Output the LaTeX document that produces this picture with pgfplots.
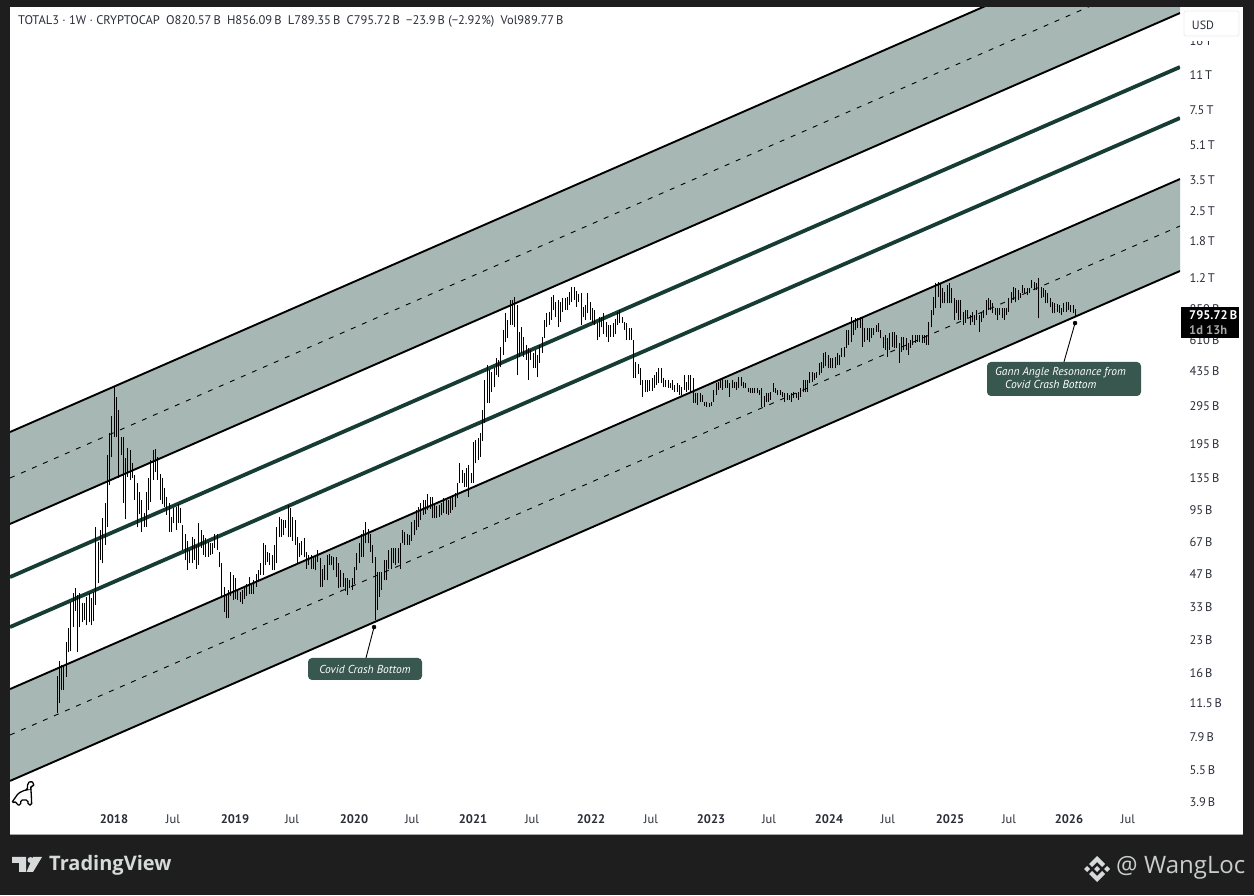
\documentclass[border=0pt]{standalone}
\usepackage{pgfplots}
\usepackage{pgfplotstable}
\usepackage{fontspec}
\setmainfont{PT Sans}
\newfontfamily\brand{Open Sans}
\pgfplotsset{compat=1.18}
\definecolor{bgdark}{HTML}{1E1E1E}
\definecolor{band}{HTML}{A7B7B3}
\definecolor{thickg}{HTML}{163C34}
\definecolor{calloutbg}{HTML}{38574F}
\definecolor{brandc}{HTML}{D6DADA}
\definecolor{labelc}{HTML}{2A2E39}
\pgfplotstableread{
l h
10.3 15.4
11.5 18.2
13.2 17.4
13.3 17.4
15.3 22.4
20 26
20.3 34.7
26.3 38.2
31.5 40.4
20 37.4
26.3 38.2
27.8 34.3
28.5 34.3
26.9 36.6
27.8 38.2
26.9 36.2
28.2 38.7
33.6 78.5
42.6 66.8
54.9 76
53 87
64.7 103
79 173
125 220
169 265
210 363
210 328
135 283
173 210
103 210
86 168
136 187
132 183
135 158
106 139
78.5 127
91 115
74.7 106
79 92
79 115
95 135
104 164
132 182
144 185
132 170
106 141
101 135
98 121
90 109
75 103
75 88
82 97
76 98
82 101
82 97
61 81
55 73
49 68
53 61
53 71
55 69
50 65
52 82
63 76
58 72
57 70
57 67
58 66
59 66
63 73
61 73
51 60
37 53
31 41
29 38
29 39.5
37 48
35.4 46.6
36 45
35.4 39.5
34.7 38.7
34 39.5
36 41
37 42.5
38 45.5
38 42
38 44
41 47
44 49
46.6 53
46.6 66
52 65
54 60
52 59.5
49 58
49 65
53 79
70.5 87.5
70.5 86
72 85
78 85
70.5 100
70.5 97
68 87.5
64.7 85
53 70.5
57 66
58 68
56.5 70
50 60
52 58
50 58
50 57
49 57
53.5 61
41 56
41 50
44 52
44 58
52 58.5
52 57.5
49 56.5
45.5 56.5
40.3 53
41 49
41 47.5
39 45
37.4 45
40.3 44
39.5 45
42.5 51
49 59.5
53 66
57 73
57 76
66 83
66 77
60 73
53 65
28.5 57
31.8 48
36.6 48
39.5 48
44 55
44 55
50 61
50 63
53 63
52 63
53 63
50 66
66 76
65 74.5
65 73
65 72
68 83
72 85
76 95
79 98
85 103
90 106
91 106
95 113
96 109
87 109
87 102
87 99
88 100
90 103
92 108
91 106
90 106
92 109
95 109
98 114
108 128
128 158
128 147
122 142
122 150
110 155
128 142
128 199
158 204
164 208
170 220
201 283
245 393
306 463
306 438
344 429
363 447
415 500
405 489
452 563
516 678
595 820
620 757
716 941
716 941
700 975
415 892
505 665
528 700
505 630
489 576
393 560
489 545
450 530
450 545
405 516
473 576
528 630
620 757
705 815
716 825
757 975
844 994
780 920
700 941
740 920
825 960
844 960
844 975
892 1025
920 1090
941 1085
873 1040
920 1010
716 1015
780 873
757 892
815 1015
757 920
735 860
716 844
608 735
630 780
700 780
650 815
630 740
595 716
630 716
630 735
650 770
716 825
735 844
735 780
678 740
608 735
608 693
608 695
400 608
400 478
420 470
372 447
325 393
344 393
345 393
350 393
350 404
360 415
372 429
380 447
380 447
363 404
363 393
360 393
360 380
352 393
345 372
345 380
333 372
333 363
352 415
345 385
352 415
345 415
306 404
306 340
299 340
310 340
310 333
296 310
293 310
293 306
296 310
310 352
333 380
352 385
360 393
352 404
360 393
360 393
326 380
360 393
360 385
352 385
360 407
368 407
360 385
360 380
344 360
340 360
340 360
340 360
340 360
333 352
293 360
293 330
310 340
310 340
316 344
344 380
340 360
333 352
333 352
326 344
310 340
316 340
316 333
310 340
322 344
322 340
316 344
326 360
344 393
344 393
344 393
380 429
385 429
393 425
402 429
415 474
425 478
447 528
457 533
447 516
447 500
447 500
447 505
463 528
463 516
505 558
505 564
558 678
576 678
595 780
642 757
678 772
693 772
693 780
564 780
595 693
608 693
595 693
620 693
642 693
664 716
664 735
620 678
558 630
545 642
505 620
545 657
564 664
558 664
558 642
474 590
533 630
545 630
545 620
516 590
558 608
576 642
590 642
595 642
595 642
590 642
590 642
576 642
576 740
700 844
799 970
860 1135
970 1150
860 1135
910 1075
910 1030
910 1110
910 1135
910 1075
757 960
815 941
757 941
757 941
716 825
735 844
772 844
716 799
740 825
716 799
757 844
664 799
740 825
772 844
799 941
844 960
844 941
815 910
799 860
757 860
799 860
772 860
757 860
799 860
825 960
910 1030
941 1085
920 1075
941 1050
960 1015
1015 1110
1015 1075
994 1075
1015 1075
1075 1172
1050 1150
1050 1135
772 1195
960 1085
970 1075
910 1050
910 1015
873 960
815 920
815 910
825 900
815 892
799 860
825 910
825 920
844 920
825 892
815 892
789.35 856.09
}\bars
\begin{document}
\begin{tikzpicture}[x=1pt,y=1pt]
\useasboundingbox (0,0) rectangle (1254,895);
\fill[bgdark] (0,0) rectangle (1254,895);
\fill[white] (10,61) rectangle (1243,888);
\draw[gray!70,line width=0.8pt] (10,61) -- (1243,61);
\begin{axis}[
  at={(10pt,85pt)}, anchor=south west,
  width=1170pt, height=802pt, scale only axis,
  ymode=log,
  xmin=2017.129, xmax=2026.928,
  ymin=3.573, ymax=22961,
  axis line style={draw=none},
  tick style={draw=none},
  ticklabel pos=right,
  xticklabel pos=left,
  log ticks with fixed point,
  /pgf/number format/assume math mode=true,
  xtick={2018,2018.494,2019.013,2019.491,2020.01,2020.496,2021.007,2021.501,2021.995,2022.497,2023,2023.486,2023.988,2024.482,2025.002,2025.496,2025.998,2026.492},
  xticklabels={\textbf{2018},Jul,\textbf{2019},Jul,\textbf{2020},Jul,\textbf{2021},Jul,\textbf{2022},Jul,\textbf{2023},Jul,\textbf{2024},Jul,\textbf{2025},Jul,\textbf{2026},Jul},
  ytick={3.9,5.5,7.9,11.5,16,23,33,47,67,95,135,195,295,435,610,850,1200,1800,2500,3500,5100,7500,11000,16000},
  yticklabels={3.9\,B,5.5\,B,7.9\,B,11.5\,B,16\,B,23\,B,33\,B,47\,B,67\,B,95\,B,135\,B,195\,B,295\,B,435\,B,610\,B,850\,B,1.2\,T,1.8\,T,2.5\,T,3.5\,T,5.1\,T,7.5\,T,11\,T,16\,T},
  yticklabel style={anchor=west,font=\fontsize{12.5}{13}\selectfont,text=labelc,xshift=6pt},
  xticklabel style={font=\fontsize{12.5}{13}\selectfont,text=labelc,yshift=-1pt},
  clip=true,
  axis on top=false,
]
% channel bands
\addplot[fill=band,draw=none,forget plot] coordinates {(2017.129,222.7)(2026.928,59430)(2026.928,21730)(2017.129,81.5)} -- cycle;
\addplot[fill=band,draw=none,forget plot] coordinates {(2017.129,13.4)(2026.928,3540)(2026.928,1295)(2017.129,4.91)} -- cycle;
% channel edges
\addplot[black,line width=1.9pt,forget plot] coordinates {(2017.129,222.7)(2026.928,59430)};
\addplot[black,line width=1.9pt,forget plot] coordinates {(2017.129,81.5)(2026.928,21730)};
\addplot[black,line width=1.9pt,forget plot] coordinates {(2017.129,13.4)(2026.928,3540)};
\addplot[black,line width=1.9pt,forget plot] coordinates {(2017.129,4.91)(2026.928,1295)};
% mid dashed
\addplot[black,line width=0.9pt,dash pattern=on 5pt off 7pt,forget plot] coordinates {(2017.129,134.7)(2026.928,35950)};
\addplot[black,line width=0.9pt,dash pattern=on 5pt off 7pt,forget plot] coordinates {(2017.129,8.11)(2026.928,2118)};
% thick green
\addplot[thickg,line width=3.8pt,forget plot] coordinates {(2017.129,45.6)(2026.928,12042)};
\addplot[thickg,line width=3.8pt,forget plot] coordinates {(2017.129,26.4)(2026.928,6896)};
% weekly high-low bars
\addplot[draw=none,mark=none,forget plot,
  error bars/.cd,y dir=plus,y explicit,error mark=none,
  error bar style={black,line width=0.85pt}]
  table[x expr={2017.5226+\coordindex/52.18},y=l,y error expr={\thisrow{h}-\thisrow{l}}] {\bars};
% callout leaders
\addplot[black,line width=0.9pt,forget plot] coordinates {(2020.178,26.4)(2020.11,18.8)};
\addplot[black,line width=0.9pt,forget plot] coordinates {(2026.049,733)(2025.956,479)};
\addplot[only marks,mark=*,mark size=2pt,black,forget plot] coordinates {(2020.178,26.4)(2026.049,733)};
\end{axis}
% callouts
\node[fill=calloutbg,rounded corners=4pt,text=white,minimum width=114pt,minimum height=22pt,inner sep=0pt,font=\fontsize{11.5}{12}\selectfont\itshape] at (365,226) {Covid Crash Bottom};
\node[fill=calloutbg,rounded corners=4pt,minimum width=154pt,minimum height=34pt,inner sep=0pt] at (1064,516) {};
\node[anchor=west,text=white,inner sep=0pt,font=\fontsize{11.5}{12}\selectfont\itshape] at (995,522) {Gann Angle Resonance from};
\node[anchor=west,text=white,inner sep=0pt,font=\fontsize{11.5}{12}\selectfont\itshape] at (1005,511) {Covid Crash Bottom};
% USD box
\fill[white] (1182,854) rectangle (1240,884);
\draw[gray!15,line width=0.8pt,rounded corners=2pt] (1184,859) rectangle (1239,884);
\node[text=labelc,inner sep=0pt,font=\fontsize{12}{13}\selectfont] at (1203,870) {USD};
% price tag
\fill[black] (1181,557) rectangle (1239,588);
\node[anchor=west,text=white,inner sep=0pt,font=\fontsize{12.5}{13}\selectfont\bfseries] at (1189,580) {795.72\,B};
\node[anchor=west,text=gray!70,inner sep=0pt,font=\fontsize{12.5}{13}\selectfont\bfseries] at (1189,565) {1d 13h};
% header
\node[anchor=west,text=labelc,inner sep=0pt,font=\fontsize{12.5}{13}\selectfont] at (18,874) {TOTAL3 · 1W · CRYPTOCAP\enspace O820.57\,B\enspace H856.09\,B\enspace L789.35\,B\enspace C795.72\,B\enspace −23.9\,B (−2.92\%)\enspace Vol989.77\,B};
% dino
\draw[black,line width=1.3pt,rounded corners=1.5pt,fill=white] (11.7,92.3)--(18.3,101.7)--(25,105)--(27.3,105)--(27.7,111.7)--(30.7,114)--(34,111.7)--(33.3,108.3)--(30.7,109)--(31.3,100)--(31.7,90)--(28.3,90)--(27.7,95)--(20.7,95)--(20.7,90)--(16.7,90)--(16.7,93.3)--cycle;
% TradingView brand
\fill[brandc] (12,38) rectangle (26,32) (19,38) rectangle (26,23);
\fill[brandc] (30.5,35) circle (3);
\fill[brandc] (33,38)--(42,38)--(33,23)--(26.5,23)--cycle;
\node[anchor=west,text=brandc,inner sep=0pt,font=\fontsize{20}{22}\selectfont\brand\bfseries] at (49,30) {TradingView};
% WangLoc brand
\begin{scope}[shift={(1097,26)},brandc]
\fill (0,13)--(8,5)--(5,2)--(0,7)--(-5,2)--(-8,5)--cycle;
\fill (0,-13)--(8,-5)--(5,-2)--(0,-7)--(-5,-2)--(-8,-5)--cycle;
\fill (-13,0)--(-10,3)--(-7,0)--(-10,-3)--cycle;
\fill (13,0)--(10,3)--(7,0)--(10,-3)--cycle;
\fill (0,3)--(3,0)--(0,-3)--(-3,0)--cycle;
\end{scope}
\node[anchor=west,text=brandc!85!gray,inner sep=0pt,font=\fontsize{24}{26}\selectfont\brand] at (1116,27) {@ WangLoc};
\end{tikzpicture}
\end{document}
